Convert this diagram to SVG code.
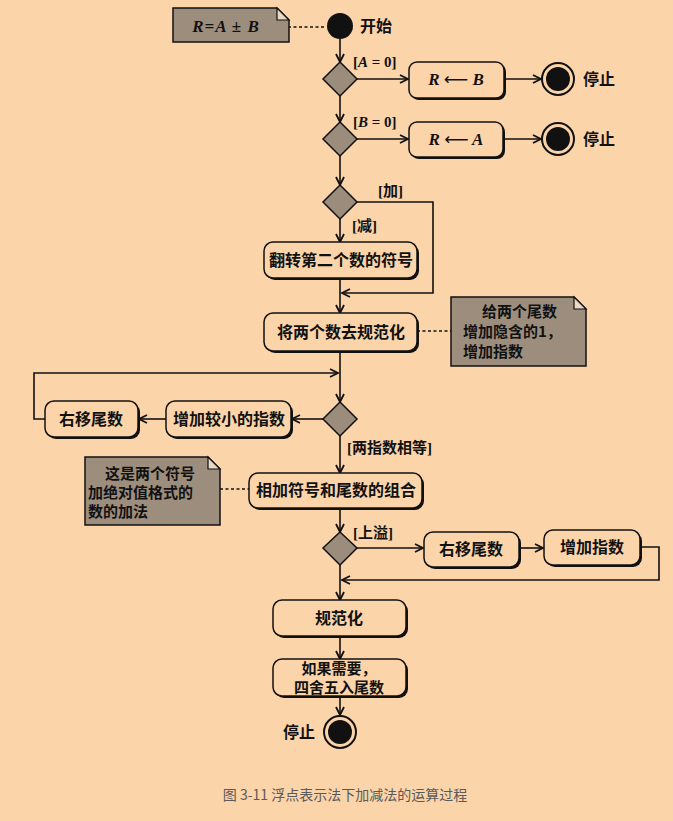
<svg xmlns="http://www.w3.org/2000/svg" width="673" height="821" viewBox="0 0 673 821">
<defs>
<marker id="arr" markerUnits="userSpaceOnUse" markerWidth="12" markerHeight="12" refX="9" refY="5" orient="auto">
<path d="M1,1 L9,5 L1,9" fill="none" stroke="#111" stroke-width="1.8" stroke-linejoin="miter"/>
</marker>
</defs>
<style>
.bg{fill:#fcd4a9}
.box{fill:#fcd4a9;stroke:#111;stroke-width:1.5}
.sh{fill:#111}
.dia{fill:#9c8c7b;stroke:#111;stroke-width:1.5}
.note{fill:#9d8d7c;stroke:#111;stroke-width:1.5}
.fold{fill:#e8d8c4;stroke:#111;stroke-width:1.2}
.c{fill:none;stroke:#111;stroke-width:1.6}
.dash{fill:none;stroke:#111;stroke-width:1.5;stroke-dasharray:3,2.5}
.t{font-family:"Noto Sans CJK SC","Noto Sans",sans-serif;font-size:16px;font-weight:bold;fill:#111}
.n{font-family:"Noto Sans CJK SC","Noto Sans",sans-serif;font-size:15px;font-weight:bold;fill:#111}
.g{font-family:"Liberation Serif","Noto Sans CJK SC",serif;font-size:15px;font-weight:bold;fill:#111}
.m{font-family:"Liberation Serif",serif;font-size:17px;font-weight:bold;font-style:italic;fill:#111}
.ar{font-family:"DejaVu Sans",sans-serif;font-style:normal;font-weight:normal}
.cap{font-family:"Noto Sans CJK SC","Noto Sans",sans-serif;font-size:14px;fill:#5a5a5a}
</style>
<rect class="bg" x="0" y="0" width="673" height="821"/>

<g id="connectors">
<line class="dash" x1="288" y1="27" x2="326" y2="27"/>
<line class="dash" x1="417" y1="331" x2="451" y2="331"/>
<line class="dash" x1="220" y1="489" x2="249" y2="489"/>
<line class="c" x1="340" y1="39" x2="340" y2="62" marker-end="url(#arr)"/>
<line class="c" x1="357" y1="79" x2="408" y2="79" marker-end="url(#arr)"/>
<line class="c" x1="505" y1="79" x2="541" y2="79" marker-end="url(#arr)"/>
<line class="c" x1="340" y1="96" x2="340" y2="122" marker-end="url(#arr)"/>
<line class="c" x1="357" y1="139" x2="408" y2="139" marker-end="url(#arr)"/>
<line class="c" x1="505" y1="139" x2="541" y2="139" marker-end="url(#arr)"/>
<line class="c" x1="340" y1="156" x2="340" y2="185" marker-end="url(#arr)"/>
<line class="c" x1="340" y1="219" x2="340" y2="242" marker-end="url(#arr)"/>
<polyline class="c" points="357,202 433,202 433,293 342,293" marker-end="url(#arr)"/>
<line class="c" x1="340" y1="279" x2="340" y2="313" marker-end="url(#arr)"/>
<line class="c" x1="340" y1="353" x2="340" y2="402" marker-end="url(#arr)"/>
<line class="c" x1="323" y1="419" x2="292" y2="419" marker-end="url(#arr)"/>
<line class="c" x1="166" y1="419" x2="139" y2="419" marker-end="url(#arr)"/>
<polyline class="c" points="45,419 34,419 34,373 338,373" marker-end="url(#arr)"/>
<line class="c" x1="340" y1="436" x2="340" y2="473" marker-end="url(#arr)"/>
<line class="c" x1="340" y1="509" x2="340" y2="532" marker-end="url(#arr)"/>
<line class="c" x1="357" y1="548" x2="423" y2="548" marker-end="url(#arr)"/>
<line class="c" x1="520" y1="548" x2="543" y2="548" marker-end="url(#arr)"/>
<polyline class="c" points="641,547 659,547 659,580 342,580" marker-end="url(#arr)"/>
<line class="c" x1="340" y1="565" x2="340" y2="600" marker-end="url(#arr)"/>
<line class="c" x1="340" y1="637" x2="340" y2="659" marker-end="url(#arr)"/>
<line class="c" x1="340" y1="696" x2="340" y2="715" marker-end="url(#arr)"/>
</g>

<g id="note1">
<path class="note" d="M173,8 H277 L289,20 V42 H173 Z"/>
<path class="fold" d="M277,8 V20 H289 Z"/>
<text class="m" x="226" y="32" text-anchor="middle" letter-spacing="1">R=A ± B</text>
</g>

<g id="start">
<circle cx="340" cy="26" r="13" fill="#111"/>
<text class="t" x="360" y="32">开始</text>
</g>

<g id="dec1">
<path class="dia" d="M340,62 L357,79 L340,96 L323,79 Z"/>
<text class="g" x="353" y="67">[<tspan font-style="italic">A</tspan> = 0]</text>
</g>
<g id="rb">
<rect class="sh" x="411" y="64" width="95" height="36" rx="8"/>
<rect class="box" x="409" y="62" width="95" height="36" rx="8"/>
<text class="m" x="456" y="85" text-anchor="middle">R <tspan class="ar">⟵</tspan> B</text>
</g>
<g id="end1">
<circle cx="558" cy="79" r="16" fill="none" stroke="#111" stroke-width="2"/>
<circle cx="558" cy="79" r="12" fill="#111"/>
<text class="t" x="583" y="85">停止</text>
</g>

<g id="dec2">
<path class="dia" d="M340,122 L357,139 L340,156 L323,139 Z"/>
<text class="g" x="353" y="127">[<tspan font-style="italic">B</tspan> = 0]</text>
</g>
<g id="ra">
<rect class="sh" x="411" y="124" width="94" height="35" rx="8"/>
<rect class="box" x="409" y="122" width="94" height="35" rx="8"/>
<text class="m" x="456" y="145" text-anchor="middle">R <tspan class="ar">⟵</tspan> A</text>
</g>
<g id="end2">
<circle cx="558" cy="139" r="16" fill="none" stroke="#111" stroke-width="2"/>
<circle cx="558" cy="139" r="12" fill="#111"/>
<text class="t" x="583" y="145">停止</text>
</g>

<g id="dec3">
<path class="dia" d="M340,185 L357,202 L340,219 L323,202 Z"/>
<text class="g" x="378" y="196">[加]</text>
<text class="g" x="352" y="231">[减]</text>
</g>

<g id="flip">
<rect class="sh" x="266" y="244" width="153" height="36" rx="9"/>
<rect class="box" x="264" y="242" width="153" height="36" rx="9"/>
<text class="t" x="341" y="266" text-anchor="middle">翻转第二个数的符号</text>
</g>

<g id="denorm">
<rect class="sh" x="266" y="315" width="153" height="38" rx="9"/>
<rect class="box" x="264" y="313" width="153" height="38" rx="9"/>
<text class="t" x="341" y="338" text-anchor="middle">将两个数去规范化</text>
</g>

<g id="note2">
<path class="note" d="M451,297 H574 L586,309 V366 H451 Z"/>
<path class="fold" d="M574,297 V309 H586 Z"/>
<text class="n" x="482" y="317">给两个尾数</text>
<text class="n" x="463" y="337">增加隐含的1，</text>
<text class="n" x="463" y="357">增加指数</text>
</g>

<g id="dec4">
<path class="dia" d="M340,402 L357,419 L340,436 L323,419 Z"/>
<text class="g" x="347" y="453">[两指数相等]</text>
</g>

<g id="incexp">
<rect class="sh" x="168" y="403" width="125" height="36" rx="9"/>
<rect class="box" x="166" y="401" width="125" height="36" rx="9"/>
<text class="t" x="229" y="425" text-anchor="middle">增加较小的指数</text>
</g>

<g id="shift1">
<rect class="sh" x="47" y="403" width="93" height="36" rx="9"/>
<rect class="box" x="45" y="401" width="93" height="36" rx="9"/>
<text class="t" x="91" y="425" text-anchor="middle">右移尾数</text>
</g>

<g id="add">
<rect class="sh" x="251" y="475" width="173" height="35" rx="9"/>
<rect class="box" x="249" y="473" width="173" height="35" rx="9"/>
<text class="t" x="336" y="496" text-anchor="middle">相加符号和尾数的组合</text>
</g>

<g id="note3">
<path class="note" d="M85,457 H208 L220,469 V525 H85 Z"/>
<path class="fold" d="M208,457 V469 H220 Z"/>
<text class="n" x="105" y="479">这是两个符号</text>
<text class="n" x="88" y="498">加绝对值格式的</text>
<text class="n" x="88" y="517">数的加法</text>
</g>

<g id="dec5">
<path class="dia" d="M340,532 L357,548 L340,565 L323,548 Z"/>
<text class="g" x="353" y="538">[上溢]</text>
</g>

<g id="shift2">
<rect class="sh" x="426" y="534" width="95" height="35" rx="9"/>
<rect class="box" x="424" y="532" width="95" height="35" rx="9"/>
<text class="t" x="471" y="555" text-anchor="middle">右移尾数</text>
</g>

<g id="incexp2">
<rect class="sh" x="546" y="532" width="96" height="35" rx="9"/>
<rect class="box" x="544" y="530" width="96" height="35" rx="9"/>
<text class="t" x="592" y="553" text-anchor="middle">增加指数</text>
</g>

<g id="norm">
<rect class="sh" x="275" y="602" width="133" height="36" rx="9"/>
<rect class="box" x="273" y="600" width="133" height="36" rx="9"/>
<text class="t" x="339" y="624" text-anchor="middle">规范化</text>
</g>

<g id="round">
<rect class="sh" x="275" y="661" width="133" height="37" rx="9"/>
<rect class="box" x="273" y="659" width="133" height="37" rx="9"/>
<text class="n" x="339" y="674" text-anchor="middle">如果需要，</text>
<text class="n" x="339" y="693" text-anchor="middle">四舍五入尾数</text>
</g>

<g id="end3">
<circle cx="340" cy="732" r="16" fill="none" stroke="#111" stroke-width="2"/>
<circle cx="340" cy="732" r="12" fill="#111"/>
<text class="t" x="283" y="738">停止</text>
</g>

<text class="cap" x="345" y="800" text-anchor="middle">图 3-11 浮点表示法下加减法的运算过程</text>
</svg>
